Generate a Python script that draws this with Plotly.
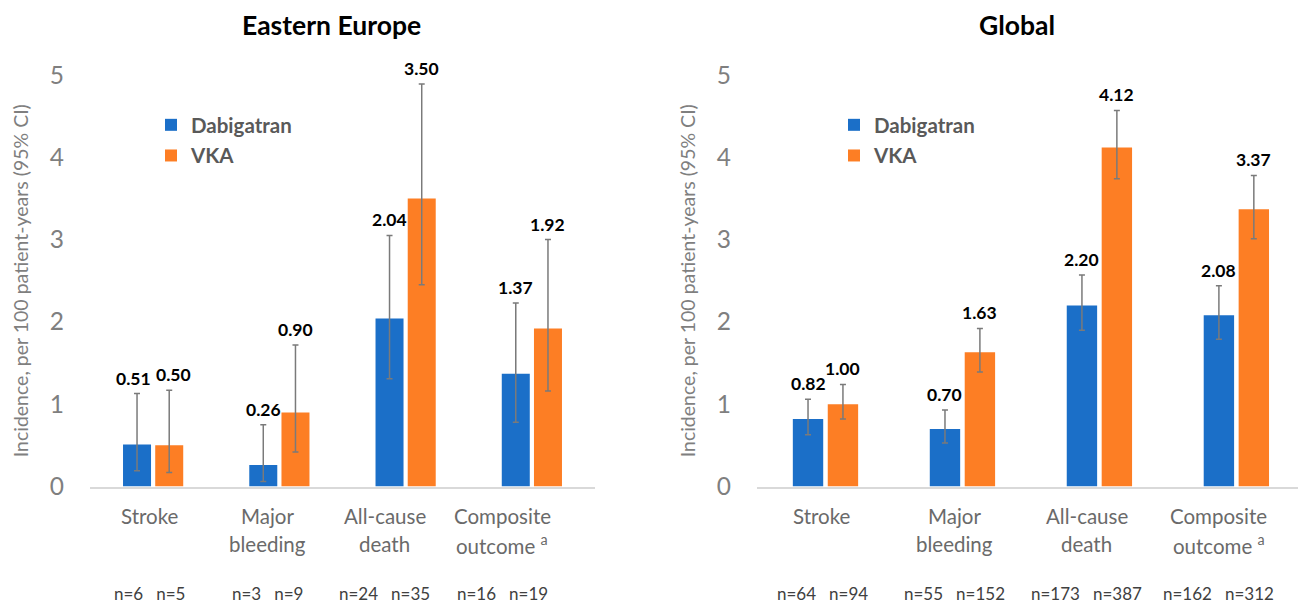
import plotly.graph_objects as go

# Outcomes shown on both panels
categories = ["Stroke", "Major<br>bleeding", "All-cause<br>death", "Composite<br>outcome <sup>a</sup>"]

# Eastern Europe: incidence per 100 patient-years with 95% CI
ee_dabi = [0.51, 0.26, 2.04, 1.37]
ee_dabi_lo = [0.19, 0.06, 1.31, 0.78]
ee_dabi_hi = [1.13, 0.75, 3.05, 2.23]
ee_vka = [0.50, 0.90, 3.50, 1.92]
ee_vka_lo = [0.17, 0.42, 2.45, 1.16]
ee_vka_hi = [1.17, 1.72, 4.89, 3.00]
ee_n_dabi = [6, 3, 24, 16]
ee_n_vka = [5, 9, 35, 19]

# Global
gl_dabi = [0.82, 0.70, 2.20, 2.08]
gl_dabi_lo = [0.63, 0.53, 1.90, 1.79]
gl_dabi_hi = [1.06, 0.93, 2.57, 2.44]
gl_vka = [1.00, 1.63, 4.12, 3.37]
gl_vka_lo = [0.82, 1.39, 3.74, 3.01]
gl_vka_hi = [1.24, 1.92, 4.57, 3.78]
gl_n_dabi = [64, 55, 173, 162]
gl_n_vka = [94, 152, 387, 312]

y_ticks = [0, 1, 2, 3, 4, 5]

BLUE = "#1B6FC8"
ORANGE = "#FD7E24"
GREY_TICK = "#7f7f7f"
GREY_LABEL = "#6a6a6a"
FONT = "Lato"
W, H = 1299, 604
BARGAP = 0.49
BARGROUPGAP = 0.13

idx = list(range(len(categories)))


def px_x(p):
    return p / W


def px_y(p):
    return (H - p) / H


fig = go.Figure()


def add_bars(values, lo, hi, name, color, xa, ya, legend):
    fig.add_trace(go.Bar(
        x=idx, y=values, name=name, marker=dict(color=color, line=dict(width=0)),
        error_y=dict(type="data", symmetric=False,
                     array=[h - v for h, v in zip(hi, values)],
                     arrayminus=[v - l for l, v in zip(lo, values)],
                     color="#7a7a7a", thickness=1.5, width=3),
        xaxis=xa, yaxis=ya, legend=legend, legendgroup=f"{legend}-{name}",
        hoverinfo="skip",
    ))


add_bars(ee_dabi, ee_dabi_lo, ee_dabi_hi, "Dabigatran", BLUE, "x", "y", "legend")
add_bars(ee_vka, ee_vka_lo, ee_vka_hi, "VKA", ORANGE, "x", "y", "legend")
add_bars(gl_dabi, gl_dabi_lo, gl_dabi_hi, "Dabigatran", BLUE, "x2", "y2", "legend2")
add_bars(gl_vka, gl_vka_lo, gl_vka_hi, "VKA", ORANGE, "x2", "y2", "legend2")

# invisible anchors for the axes that position the outcome labels
for xa, ya in (("x3", "y"), ("x4", "y2")):
    fig.add_trace(go.Scatter(x=idx, y=[0] * len(idx), mode="markers",
                             marker=dict(opacity=0), xaxis=xa, yaxis=ya,
                             showlegend=False, hoverinfo="skip"))

y_dom = [px_y(486.5), px_y(75)]
yaxis_common = dict(
    range=[0, 5], domain=y_dom, tickvals=y_ticks, showgrid=False, zeroline=False,
    showline=False, ticks="", tickfont=dict(family=FONT, size=24.5, color=GREY_TICK),
    ticklabelstandoff=25, automargin=False,
    title=dict(text="Incidence, per 100 patient-years (95% CI)",
               font=dict(family=FONT, size=19.5, color=GREY_TICK), standoff=15),
)
bar_x_common = dict(showticklabels=False, ticks="", showgrid=False, zeroline=False,
                    showline=True, linecolor="#d9d9d9", linewidth=1.5, automargin=False)
label_x_common = dict(range=[-0.5, 3.5], showticklabels=False, ticks="", showgrid=False,
                      zeroline=False, showline=False, automargin=False)
legend_common = dict(xanchor="left", yanchor="top", bgcolor="rgba(0,0,0,0)",
                     font=dict(family=FONT, size=20.5, color="#595959", weight="bold"),
                     itemclick=False, itemdoubleclick=False, tracegroupgap=1)

fig.update_layout(
    width=W, height=H, margin=dict(l=0, r=0, t=0, b=0, autoexpand=False),
    paper_bgcolor="white", plot_bgcolor="rgba(0,0,0,0)",
    barmode="group", bargap=BARGAP, bargroupgap=BARGROUPGAP,
    xaxis=dict(domain=[px_x(90), px_x(595)], range=[-0.5, 3.5], anchor="y", **bar_x_common),
    xaxis2=dict(domain=[px_x(757), px_x(1298)], range=[-0.5, 3.45], anchor="y2", **bar_x_common),
    xaxis3=dict(domain=[px_x(90.75), px_x(560.75)], anchor="y", **label_x_common),
    xaxis4=dict(domain=[px_x(756), px_x(1285)], anchor="y2", **label_x_common),
    yaxis=dict(anchor="x", **yaxis_common),
    yaxis2=dict(anchor="x2", **yaxis_common),
    legend=dict(x=px_x(151), y=px_y(105), **legend_common),
    legend2=dict(x=px_x(834), y=px_y(105), **legend_common),
    showlegend=True,
)

annotations = []

# value labels above each confidence interval; a pair whose intervals end at
# nearly the same height is spread apart slightly so the labels do not touch
half_slot = (1 - BARGAP) / 4
for xa, dabi, dabi_hi, vka, vka_hi in (("x", ee_dabi, ee_dabi_hi, ee_vka, ee_vka_hi),
                                       ("x2", gl_dabi, gl_dabi_hi, gl_vka, gl_vka_hi)):
    for i in idx:
        spread = 4 if abs(dabi_hi[i] - vka_hi[i]) < 0.1 else 0
        for sign, val, top in ((-1, dabi[i], dabi_hi[i]), (1, vka[i], vka_hi[i])):
            annotations.append(dict(
                x=i + sign * half_slot, y=top, xref=xa, yref="y" if xa == "x" else "y2",
                text=f"{val:.2f}", showarrow=False, yanchor="bottom", yshift=3,
                xshift=sign * spread,
                font=dict(family=FONT, size=17.5, color="black", weight="bold"),
            ))

# outcome labels (one annotation per line) and event counts under each outcome
gap = "\u00a0" * 3
for xa, nd, nv in (("x3", ee_n_dabi, ee_n_vka), ("x4", gl_n_dabi, gl_n_vka)):
    for i in idx:
        for line_no, line in enumerate(categories[i].split("<br>")):
            annotations.append(dict(
                x=i, y=px_y(516 + 28 * line_no), xref=xa, yref="paper", yanchor="middle",
                text=line, showarrow=False,
                font=dict(family=FONT, size=20.5, color=GREY_LABEL),
            ))
        annotations.append(dict(
            x=i, y=px_y(593), xref=xa, yref="paper", yanchor="middle",
            text=f"n={nd[i]}{gap}n={nv[i]}", showarrow=False,
            font=dict(family=FONT, size=17, color="#404040"),
        ))

# panel titles
for text, xc in (("Eastern Europe", 331), ("Global", 1017)):
    annotations.append(dict(
        x=px_x(xc), y=px_y(25), xref="paper", yref="paper",
        xanchor="center", yanchor="middle",
        text=text, showarrow=False,
        font=dict(family=FONT, size=26.5, color="black", weight="bold"),
    ))

fig.update_layout(annotations=annotations)

fig.write_html("out.html")
